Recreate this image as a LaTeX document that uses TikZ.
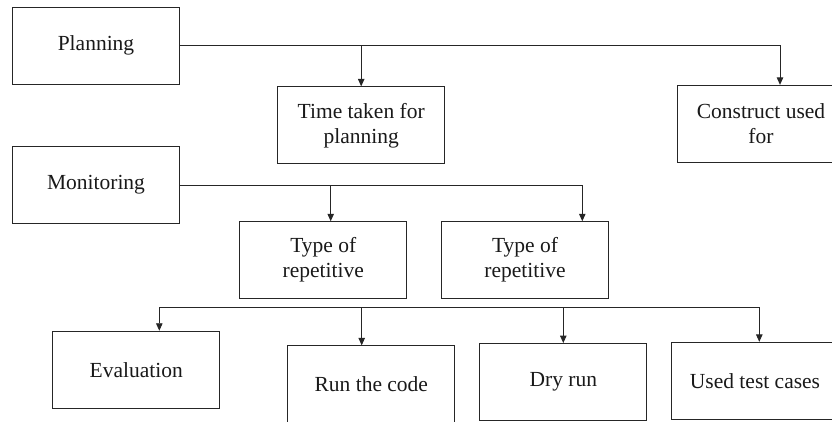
\documentclass[tikz,border=0pt]{standalone}
\usepackage{fontspec}
\setmainfont{Liberation Serif}
\usetikzlibrary{arrows.meta}
\tikzset{
  box/.style={draw=black!85, line width=0.9pt, minimum width=167pt, minimum height=77pt, inner sep=0pt, align=center, text=black!90, font=\fontsize{21.5}{25}\selectfont},
  link/.style={draw=black!85, line width=0.9pt},
  arr/.style={link, -{Triangle[length=7.5pt,width=6.5pt]}}
}

\begin{document}
\begin{tikzpicture}[x=1pt,y=-1pt]
\useasboundingbox (0,0) rectangle (832,421);
\clip (0,0) rectangle (832,421);
% Top row
\node[box] (plan) at (96,45.5) {Planning};
\node[box] (time) at (361.2,125.3) {Time taken for\\planning};
\node[box] (cons) at (761,123.8) {Construct used\\for};
% Middle row
\node[box] (moni) at (96,185) {Monitoring};
\node[box] (typea) at (323.3,260.2) {Type of\\repetitive};
\node[box] (typeb) at (525,260.2) {Type of\\repetitive};
% Bottom row
\node[box] (eval) at (136.2,369.7) {Evaluation};
\node[box] (run) at (371.3,384.3) {Run the code};
\node[box] (dry) at (563.3,382) {Dry run};
\node[box] (used) at (755,380.8) {Used test cases};
% Planning branches
\draw[arr] (plan.east) -| ([xshift=19pt]cons.north);
\draw[arr] (plan.east -| time.north) -- (time.north);
% Monitoring branches
\draw[arr] (moni.east) -| ([xshift=57.3pt]typeb.north);
\draw[arr] ([xshift=7.4pt]typea.north |- moni.east) -- ([xshift=7.4pt]typea.north);
% Bottom bus
\coordinate (busa) at (159.3,307.3);
\coordinate (busb) at (759.3,307.3);
\draw[link] (busa) -- (busb);
\draw[arr] (busa) -- (busa |- eval.north);
\draw[arr] ([xshift=-9.6pt]run.north |- busa) -- ([xshift=-9.6pt]run.north);
\draw[arr] (dry.north |- busa) -- (dry.north);
\draw[arr] (busb) -- (busb |- used.north);
\end{tikzpicture}
\end{document}
